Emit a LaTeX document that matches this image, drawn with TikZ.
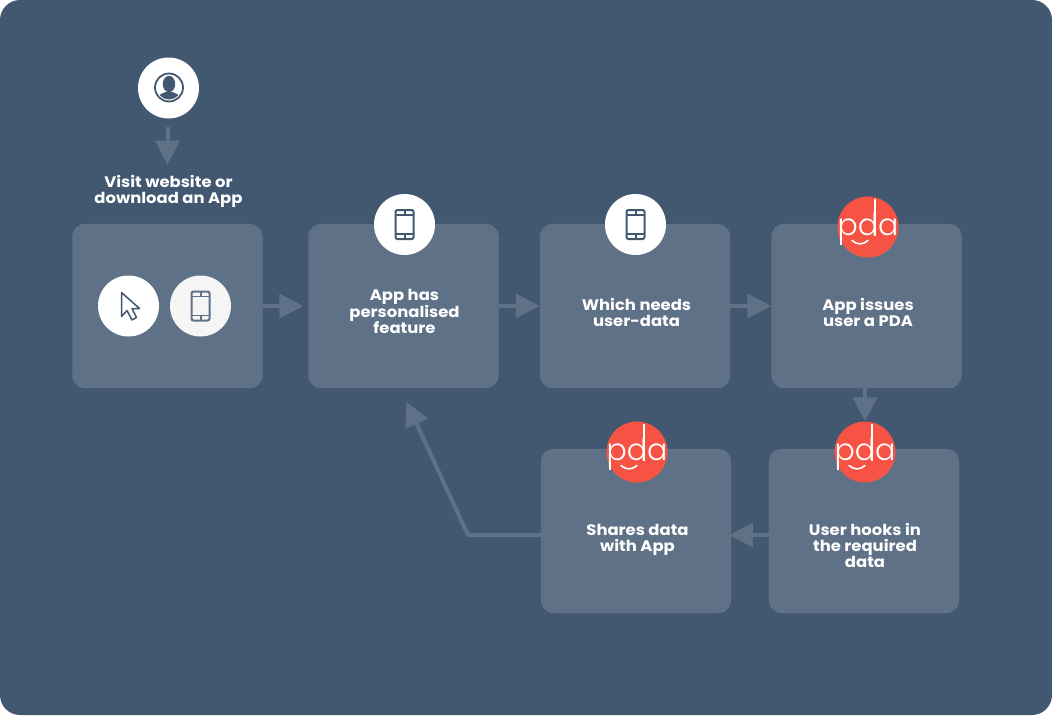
\documentclass[tikz,border=0pt]{standalone}
\usepackage{fontspec}
\setmainfont[FakeStretch=1.08]{Poppins}
\newfontfamily\logofont{Poppins Light}
\usetikzlibrary{arrows.meta}
\definecolor{panelbg}{HTML}{425770}
\definecolor{boxfill}{HTML}{5F7186}
\definecolor{boxedge}{HTML}{67788C}
\definecolor{pdared}{HTML}{F65345}
\definecolor{softwhite}{HTML}{F5F5F5}
\tikzset{
  stepbox/.style={draw=boxedge, fill=boxfill, rounded corners=13pt, minimum width=190pt, minimum height=164pt, inner sep=0pt},
  disc/.style={circle, fill=white, minimum size=61pt, inner sep=0pt},
  pdadisc/.style={disc, fill=pdared},
  steplabel/.style={text=white, font=\fontsize{15.2}{16}\selectfont\bfseries, align=center, inner sep=0pt},
  link/.style={boxfill, line width=4pt, -{Triangle[length=24pt,width=24pt]}},
  phoneicon/.pic={
    \draw[pic actions, line width=2pt, rounded corners=2pt] (-9,-14.5) rectangle (9,14.5);
    \draw[pic actions, line width=1.7pt] (-9,-9.5)--(9,-9.5) (-9,9.5)--(9,9.5);
    \draw[pic actions, line width=2pt] (-0,-14.5)--(0,-9.5) (0,9.5)--(0,14.5);
  },
  pdalogo/.pic={
    \node[white, inner sep=0pt, anchor=base, font=\fontsize{30}{30}\logofont] (-logo) at (0,8.7) {pda};
    \draw[white, line width=2pt] (-26.9,-3)--(-26.9,17.7);
    \draw[white, line width=2pt] (7,-28.5)--(7,8.7);
    \draw[white, line width=1.6pt, line cap=round] (-16,13.5) .. controls (-11,18) and (-5,18) .. (0,13.5);
  }
}
\begin{document}
\begin{tikzpicture}[x=1pt, y=-1pt]
\useasboundingbox (0,0) rectangle (1052,715);
\fill[panelbg, rounded corners=20pt] (0,0) rectangle (1052,715);

% boxes
\node[stepbox] (siteBox) at (167.5,306) {};
\node[stepbox] (featureBox) at (403.5,306) {};
\node[stepbox] (needsBox) at (635,306) {};
\node[stepbox] (issueBox) at (866.5,306) {};
\node[stepbox] (sharesBox) at (636,531) {};
\node[stepbox] (hooksBox) at (864,531) {};

% discs
\node[disc] (userDisc) at (168.5,88) {};
\node[disc] (cursorDisc) at (128.5,306) {};
\node[disc, fill=softwhite] (siteDisc) at (200.5,306) {};
\node[disc] (featureDisc) at (404.5,224.5) {};
\node[disc] (needsDisc) at (635.5,224.5) {};
\node[pdadisc] (issueDisc) at (868,227) {};
\node[pdadisc] (hooksDisc) at (865,452) {};
\node[pdadisc] (sharesDisc) at (637,452) {};

% icons
\begin{scope}
\clip (169,87.5) circle (12);
\fill[panelbg] (169,84) ellipse (6.2 and 8.2);
\fill[panelbg] (157,100) .. controls (157,95) and (161,94) .. (165.5,92) -- (172.5,92) .. controls (177,94) and (181,95) .. (181,100) -- cycle;
\end{scope}
\draw[panelbg, line width=1.8pt] (169,87.5) circle (14);
\draw[panelbg, line width=1.5pt, fill=white, line join=round] (121.5,292.5) -- (121.5,316.5) -- (127,310.5) -- (132,320) -- (136.5,317.5) -- (132,308.5) -- (139.5,308.5) -- cycle;
\pic[boxfill] at (200.5,306) {phoneicon};
\pic[panelbg] at (404.5,224.5) {phoneicon};
\pic[panelbg] at (635.5,224.5) {phoneicon};
\pic at (868,227) {pdalogo};
\pic at (865,452) {pdalogo};
\pic at (637,452) {pdalogo};

% texts
\node[steplabel] (visitText) at (168.5,191) {Visit website or\\download an App};
\node[steplabel] (featureText) at (404.5,311.5) {App has\\personalised\\feature};
\node[steplabel] (needsText) at (636.5,312.5) {Which needs\\user-data};
\node[steplabel] (issueText) at (868,312.5) {App issues\\user a PDA};
\node[steplabel] (sharesText) at (637.5,540) {Shares data\\with App};
\node[steplabel] (hooksText) at (865,545) {User hooks in\\the required\\data};

% arrows
\coordinate (lowLink) at (0,535);
\coordinate (loopBend) at (468,535);
\coordinate (loopEnd) at (406.5,402);
\draw[link, shorten <=8pt, shorten >=10pt] (siteBox.north |- userDisc.south) -- (siteBox.north |- visitText.north);
\draw[link, shorten >=5pt] (siteBox.east) -- (featureBox.west);
\draw[link] (featureBox.east) -- (needsBox.west);
\draw[link] (needsBox.east) -- (issueBox.west);
\draw[link] (hooksDisc.north |- issueBox.south) -- (hooksDisc.north);
\draw[link, shorten >=-2pt] (hooksBox.west |- lowLink) -- (sharesBox.east |- lowLink);
\draw[link] (sharesBox.west |- lowLink) -- (loopBend) -- (loopEnd);
\end{tikzpicture}
\end{document}
